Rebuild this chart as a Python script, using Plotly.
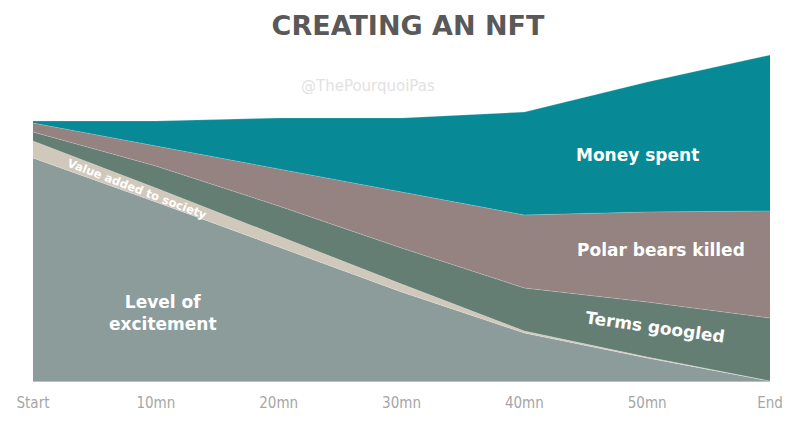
import plotly.graph_objects as go

categories = ["Start", "10mn", "20mn", "30mn", "40mn", "50mn", "End"]
excitement = [223, 179, 134, 89, 48, 23, 0]
value_added = [17, 14, 11, 8, 2, 1, 0]
terms_googled = [9, 22, 30, 36, 43, 55, 63]
polar_bears = [9, 20, 37, 56, 73, 90, 107]
money_spent = [2, 25, 51, 74, 103, 130, 156]

series = [
    ("Level of excitement", excitement, "#8b9c9b"),
    ("Value added to society", value_added, "#d0c8bb"),
    ("Terms googled", terms_googled, "#657e74"),
    ("Polar bears killed", polar_bears, "#948380"),
    ("Money spent", money_spent, "#078a96"),
]

fig = go.Figure()
for name, vals, col in series:
    fig.add_trace(go.Scatter(
        x=categories, y=vals, name=name, mode="lines",
        stackgroup="one", line=dict(width=0.6, color="rgba(255,255,255,0.35)"),
        fillcolor=col, hoverinfo="x+y+name",
    ))

lab = dict(family="DejaVu Sans", color="white")
annos = [
    dict(text="<b>Money spent</b>", x=637, y=155, size=17, angle=0),
    dict(text="<b>Polar bears killed</b>", x=661, y=250, size=17, angle=0),
    dict(text="<b>Terms googled</b>", x=655, y=327, size=17, angle=8),
    dict(text="<b>Value added to society</b>", x=137, y=189, size=11.5, angle=21),
    dict(text="<b>Level of<br>excitement</b>", x=163, y=313, size=17, angle=0),
]
W, H = 800, 422
for a in annos:
    fig.add_annotation(
        text=a["text"], xref="paper", yref="paper",
        x=(a["x"] - 33) / (770 - 33), y=(381 - a["y"]) / 341,
        showarrow=False, textangle=a["angle"],
        font=dict(lab, size=a["size"]), xanchor="center", yanchor="middle",
    )

fig.add_annotation(
    text="@ThePourquoiPas", xref="paper", yref="paper",
    x=(368 - 33) / 737, y=(381 - 86) / 341, showarrow=False,
    font=dict(family="DejaVu Sans", size=15, color="#e2e2e2"),
    xanchor="center", yanchor="middle",
)

fig.update_layout(
    width=W, height=H,
    margin=dict(l=33, r=30, t=40, b=41),
    paper_bgcolor="white", plot_bgcolor="white",
    showlegend=False,
    title=dict(
        text="<b>CREATING AN NFT</b>", x=0.51, xanchor="center",
        y=1 - 26 / H, yanchor="middle",
        font=dict(family="DejaVu Sans", size=27, color="#595959"),
    ),
    xaxis=dict(
        type="category", range=[0, 6], showgrid=False, zeroline=False,
        showline=True, linecolor="#b8c0c0", linewidth=1,
        tickfont=dict(family="DejaVu Sans Condensed, Roboto", size=15, color="#a6a6a6"),
        ticks="", ticklabelstandoff=8, automargin=False,
    ),
    yaxis=dict(
        range=[0, 341], showgrid=False, zeroline=False,
        showticklabels=False, showline=False,
    ),
)

fig.write_html("out.html")
